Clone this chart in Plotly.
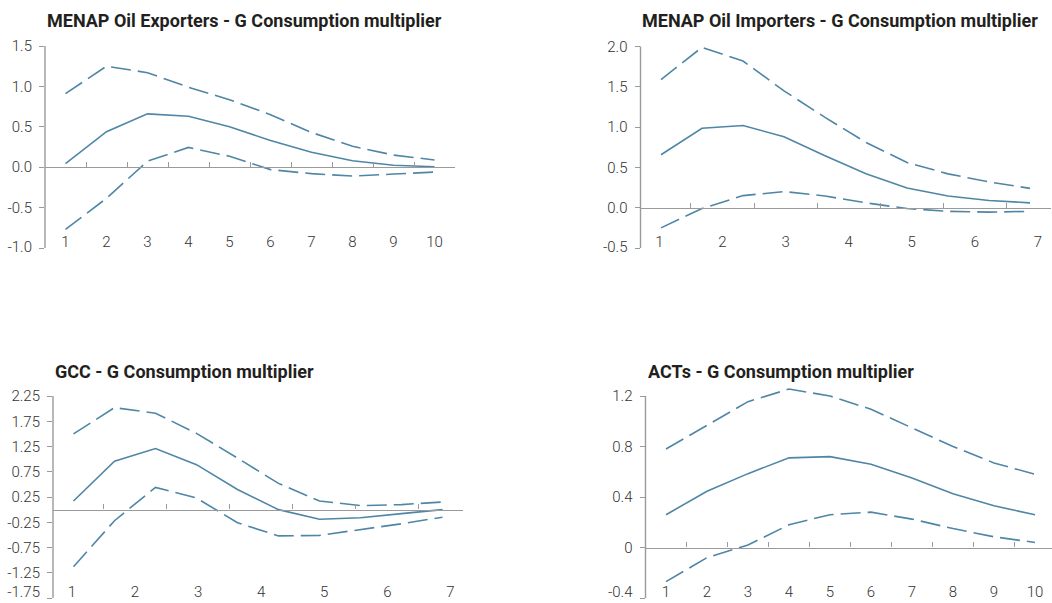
import plotly.graph_objects as go

W, H = 1052, 603

# ---------------- data ----------------
horizons = list(range(1, 11))

titles = [
    "MENAP Oil Exporters - G Consumption multiplier",
    "MENAP Oil Importers - G Consumption multiplier",
    "GCC - G Consumption multiplier",
    "ACTs - G Consumption multiplier",
]

exp_mid = [0.045, 0.44, 0.66, 0.63, 0.50, 0.33, 0.185, 0.08, 0.025, 0.005]
exp_up = [0.91, 1.25, 1.17, 0.99, 0.835, 0.65, 0.43, 0.26, 0.15, 0.09]
exp_lo = [-0.77, -0.385, 0.075, 0.245, 0.135, -0.03, -0.08, -0.11, -0.085, -0.06]

imp_mid = [0.657, 0.985, 1.02, 0.88, 0.645, 0.42, 0.245, 0.145, 0.09, 0.06]
imp_up = [1.59, 1.99, 1.82, 1.45, 1.12, 0.81, 0.56, 0.42, 0.32, 0.24]
imp_lo = [-0.25, -0.01, 0.15, 0.20, 0.145, 0.06, -0.01, -0.045, -0.055, -0.045]

gcc_mid = [0.17, 0.96, 1.21, 0.89, 0.40, 0.0, -0.19, -0.16, -0.08, 0.0]
gcc_up = [1.50, 2.02, 1.91, 1.51, 1.02, 0.52, 0.17, 0.08, 0.10, 0.15]
gcc_lo = [-1.13, -0.22, 0.44, 0.23, -0.26, -0.52, -0.51, -0.40, -0.28, -0.15]

act_mid = [0.26, 0.445, 0.585, 0.71, 0.72, 0.66, 0.55, 0.425, 0.33, 0.26]
act_up = [0.78, 0.97, 1.155, 1.255, 1.20, 1.095, 0.945, 0.80, 0.67, 0.58]
act_lo = [-0.27, -0.08, 0.02, 0.18, 0.26, 0.28, 0.225, 0.15, 0.085, 0.04]

series = [
    (exp_mid, exp_up, exp_lo),
    (imp_mid, imp_up, imp_lo),
    (gcc_mid, gcc_up, gcc_lo),
    (act_mid, act_up, act_lo),
]

xlabels_10 = ["1", "2", "3", "4", "5", "6", "7", "8", "9", "10"]
xlabels_7 = ["1", "2", "3", "4", "5", "6", "7"]
xlabels = [xlabels_10, xlabels_7, xlabels_7, xlabels_10]

y_ticks = [
    [-1.0, -0.5, 0.0, 0.5, 1.0, 1.5],
    [-0.5, 0.0, 0.5, 1.0, 1.5, 2.0],
    [-1.75, -1.25, -0.75, -0.25, 0.25, 0.75, 1.25, 1.75, 2.25],
    [-0.4, 0.0, 0.4, 0.8, 1.2],
]
y_ticktext = [
    ["-1.0", "-0.5", "0.0", "0.5", "1.0", "1.5"],
    ["-0.5", "0.0", "0.5", "1.0", "1.5", "2.0"],
    ["-1.75", "-1.25", "-0.75", "-0.25", "0.25", "0.75", "1.25", "1.75", "2.25"],
    ["-0.4", "0", "0.4", "0.8", "1.2"],
]

# ---------------- layout geometry (pixels) ----------------
boxes = [  # left, right, top, bottom (pixel box of the axes frame)
    (45, 455, 46, 248),
    (640.5, 1050.5, 46.5, 248),
    (53, 463, 396, 598),
    (645.5, 1055.5, 396, 598),
]
label_ranges = [(0.5, 10.5), (0.70, 7.2), (0.70, 7.2), (0.5, 10.5)]
title_y = [21, 21, 371, 371]
PAD = 14          # extra pixels above/below the frame so nothing is clipped
LABEL_RAISE = 17  # category labels sit inside the frame, above its bottom

LINE = "#4f86a6"
AXIS = "#9a9a9a"
TXT = "#333333"
FONT = "Roboto, Liberation Sans, sans-serif"
DASH = "20px,7px"
TICKFONT = dict(family=FONT, size=15, color=TXT, weight=300)

fig = go.Figure()
layout = dict(
    width=W, height=H,
    margin=dict(l=0, r=0, t=0, b=0),
    paper_bgcolor="white", plot_bgcolor="rgba(0,0,0,0)",
    showlegend=False,
    font=dict(family=FONT, size=15, color=TXT),
)
annotations = []
shapes = []

for i in range(4):
    L, R, T, B = boxes[i]
    data_rng = [0.5, 10.5]
    lab_rng = list(label_ranges[i])
    if R > W:
        frac = (W - L) / (R - L)
        data_rng[1] = data_rng[0] + (data_rng[1] - data_rng[0]) * frac
        lab_rng[1] = lab_rng[0] + (lab_rng[1] - lab_rng[0]) * frac
        R = W
    xd = [L / W, R / W]

    yvals = y_ticks[i]
    ytext = y_ticktext[i]
    ymin, ymax = yvals[0], yvals[-1]
    ppu = (B - T) / (ymax - ymin)
    bot_px = min(B + PAD, H)
    ybot = ymin - (bot_px - B) / ppu
    ytop = ymax + PAD / ppu
    yd = [1 - bot_px / H, 1 - (T - PAD) / H]
    zero_pos = 1 - (B - (0 - ymin) * ppu) / H
    label_pos = 1 - (B - LABEL_RAISE) / H
    # pixel shift (negative = upwards) keeping the lowest label inside the page
    bottom_shift = -max(1, B + 11 - H)

    n_data = 3 * i + 1
    n_lab = 3 * i + 2
    n_zero = 3 * i + 3
    xa_data = "x" if n_data == 1 else f"x{n_data}"
    ya = "y" if i == 0 else f"y{i + 1}"
    ykey = "yaxis" if i == 0 else f"yaxis{i + 1}"
    ya_low = f"y{i + 5}"

    mid, up, lo = series[i]
    for vals, dash in ((up, DASH), (mid, "solid"), (lo, DASH)):
        fig.add_trace(go.Scatter(
            x=horizons, y=vals, mode="lines", xaxis=xa_data, yaxis=ya,
            line=dict(color=LINE, width=1.6, dash=dash),
            hoverinfo="skip",
        ))
    for n in (n_lab, n_zero):
        fig.add_trace(go.Scatter(x=[], y=[], xaxis=f"x{n}", yaxis=ya,
                                 mode="lines", hoverinfo="skip"))
    fig.add_trace(go.Scatter(x=[], y=[], xaxis=xa_data, yaxis=ya_low,
                             mode="lines", hoverinfo="skip"))

    layout["xaxis" if n_data == 1 else f"xaxis{n_data}"] = dict(
        domain=xd, anchor=ya, range=data_rng,
        showticklabels=False, showline=False, ticks="",
        showgrid=False, zeroline=False, fixedrange=True,
    )
    labs = xlabels[i]
    layout[f"xaxis{n_lab}"] = dict(
        anchor="free", position=label_pos, overlaying=xa_data, range=lab_rng,
        tickvals=list(range(1, len(labs) + 1)), ticktext=labs,
        showline=False, showgrid=False, zeroline=False, ticks="",
        side="bottom", tickfont=TICKFONT, fixedrange=True,
    )
    bounds = [k + 0.5 for k in range(1, len(labs))]
    if len(labs) < 10:
        bounds.append(lab_rng[1])
    layout[f"xaxis{n_zero}"] = dict(
        anchor="free", position=zero_pos, overlaying=xa_data,
        range=lab_rng, tickvals=bounds, showticklabels=False,
        ticks="inside", ticklen=5, tickwidth=1.2, tickcolor=AXIS,
        showline=True, linecolor=AXIS, linewidth=1.4,
        showgrid=False, zeroline=False, side="bottom", fixedrange=True,
    )
    # main y axis: tick marks everywhere, labels for all but the lowest value
    layout[ykey] = dict(
        domain=yd, anchor=xa_data, range=[ybot, ytop],
        tickvals=yvals, ticktext=[""] + ytext[1:],
        showline=False,
        ticks="outside", ticklen=5, tickwidth=1.2, tickcolor=AXIS,
        ticklabelstandoff=4,
        showgrid=False, zeroline=False,
        tickfont=TICKFONT, fixedrange=True,
    )
    # lowest label, nudged up so it stays inside the page
    layout[f"yaxis{i + 5}"] = dict(
        overlaying=ya, anchor=xa_data, side="left", range=[ybot, ytop],
        tickvals=[ymin], ticktext=[ytext[0]],
        showline=False, ticks="outside", ticklen=5, tickcolor="rgba(0,0,0,0)",
        ticklabelstandoff=4, ticklabelshift=bottom_shift,
        ticklabeloverflow="allow",
        showgrid=False, zeroline=False,
        tickfont=TICKFONT, fixedrange=True,
    )
    shapes.append(dict(
        type="line", xref=f"{xa_data} domain", x0=0, x1=0,
        yref=ya, y0=ymin, y1=ymax,
        line=dict(color=AXIS, width=1.4), layer="below",
    ))
    annotations.append(dict(
        text=f"<b>{titles[i]}</b>", xref=f"{xa_data} domain", x=0,
        xanchor="left", yref="paper", y=1 - title_y[i] / H, yanchor="middle",
        showarrow=False, font=dict(family=FONT, size=18, color="#231f20"),
    ))

layout["annotations"] = annotations
layout["shapes"] = shapes
fig.update_layout(**layout)

fig.write_html(
    "out.html", config={"displayModeBar": False},
    post_script=(
        "document.documentElement.style.margin='0';"
        "document.documentElement.style.overflow='hidden';"
        "document.body.style.margin='0';"
        "document.body.style.overflow='hidden';"
    ),
)
